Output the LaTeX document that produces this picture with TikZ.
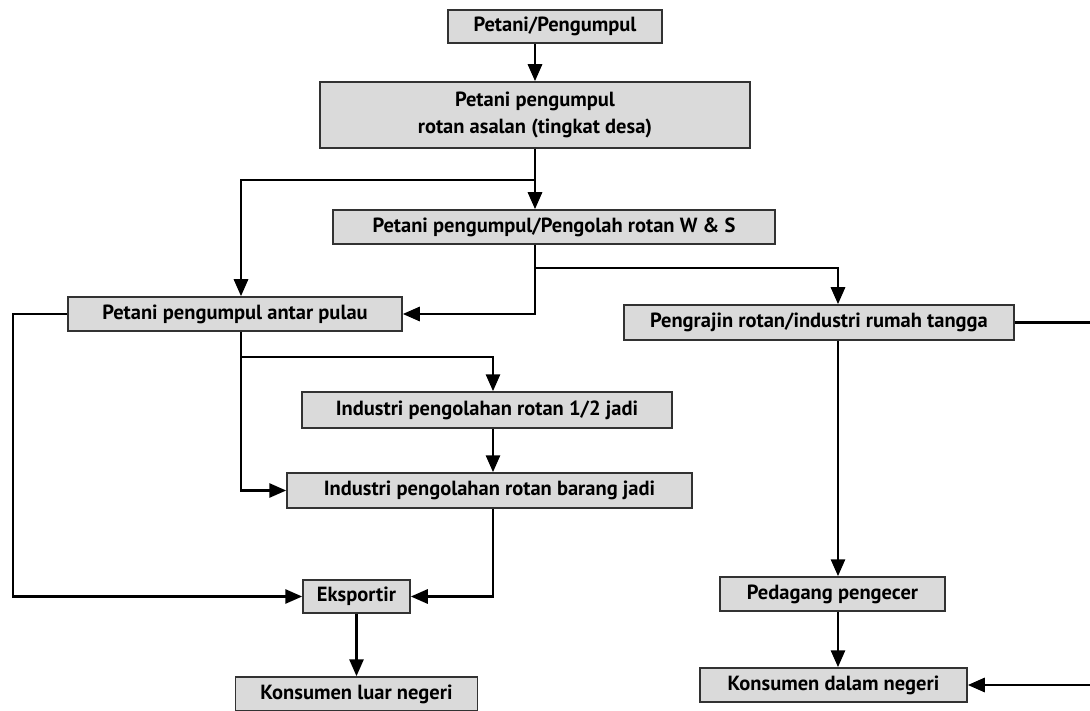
\documentclass[tikz,border=0pt]{standalone}
\usepackage{fontspec}
\setmainfont{PT Sans}
\usetikzlibrary{arrows.meta}
\definecolor{boxfill}{RGB}{218,218,218}
\definecolor{boxline}{RGB}{50,50,50}
\begin{document}
\begin{tikzpicture}[x=1pt,y=-1pt,
  box/.style={draw=boxline,line width=1.5pt,fill=boxfill,inner sep=0pt,
    font=\fontsize{20.5}{27}\selectfont\bfseries,align=center},
  arr/.style={line width=2.9pt,-{Triangle[length=17pt,width=14pt]}}]
\useasboundingbox (0,0) rectangle (1090,711);
\clip (0,0) rectangle (1090,711);
% boxes
\node[box,minimum width=214pt,minimum height=33pt] (b1) at (555,26.5) {Petani/Pengumpul};
\node[box,minimum width=430pt,minimum height=66pt] (b2) at (535,115) {Petani pengumpul\\rotan asalan (tingkat desa)};
\node[box,minimum width=442pt,minimum height=34pt] (b3) at (554,227) {Petani pengumpul/Pengolah rotan W \& S};
\node[box,minimum width=334pt,minimum height=34pt] (b4) at (235,314) {Petani pengumpul antar pulau};
\node[box,minimum width=390pt,minimum height=35pt] (b5) at (819,322.5) {Pengrajin rotan/industri rumah tangga};
\node[box,minimum width=370pt,minimum height=36pt] (b6) at (487,410) {Industri pengolahan rotan 1/2 jadi};
\node[box,minimum width=405pt,minimum height=35pt] (b7) at (489.5,490.5) {Industri pengolahan rotan barang jadi};
\node[box,minimum width=107pt,minimum height=33pt] (b8) at (356.5,596.5) {Eksportir};
\node[box,minimum width=242pt,minimum height=34pt] (b9) at (356.5,694) {Konsumen luar negeri};
\node[box,minimum width=225pt,minimum height=34pt] (b10) at (832.5,594) {Pedagang pengecer};
\node[box,minimum width=267pt,minimum height=34pt] (b11) at (833.5,685) {Konsumen dalam negeri};
% spine positions
\coordinate (xa) at (535,0);
\coordinate (xl) at (241,0);
\coordinate (xr) at (838,0);
\coordinate (xe) at (13,0);
\coordinate (xm) at (493,0);
\coordinate (xk) at (356.5,0);
\coordinate (xo) at (1094,0);
\coordinate (ya) at (0,180);
\coordinate (yb) at (0,268);
\coordinate (yc) at (0,357);
% connectors
\draw[arr] (b1.south -| xa) -- (b2.north -| xa);
\draw[arr] (b2.south -| xa) -- (b3.north -| xa);
\draw[arr] (xa |- ya) -| (b4.north -| xl);
\draw[arr] (b3.south -| xa) |- (b4.east);
\draw[arr] (xa |- yb) -| (b5.north -| xr);
\draw[arr] (b4.west) -| (xe |- b8) -- (b8.west);
\draw[arr] (b4.south -| xl) |- (b7.west);
\draw[arr] (xl |- yc) -| (b6.north -| xm);
\draw[arr] (b6.south -| xm) -- (b7.north -| xm);
\draw[arr] (b7.south -| xm) |- (b8.east);
\draw[arr] (b8.south -| xk) -- (b9.north -| xk);
\draw[arr] (b5.south -| xr) -- (b10.north -| xr);
\draw[arr] (b10.south -| xr) -- (b11.north -| xr);
\draw[arr] (b5.east) -- (xo |- b5) -- (xo |- b11) -- (b11.east);
\end{tikzpicture}
\end{document}
